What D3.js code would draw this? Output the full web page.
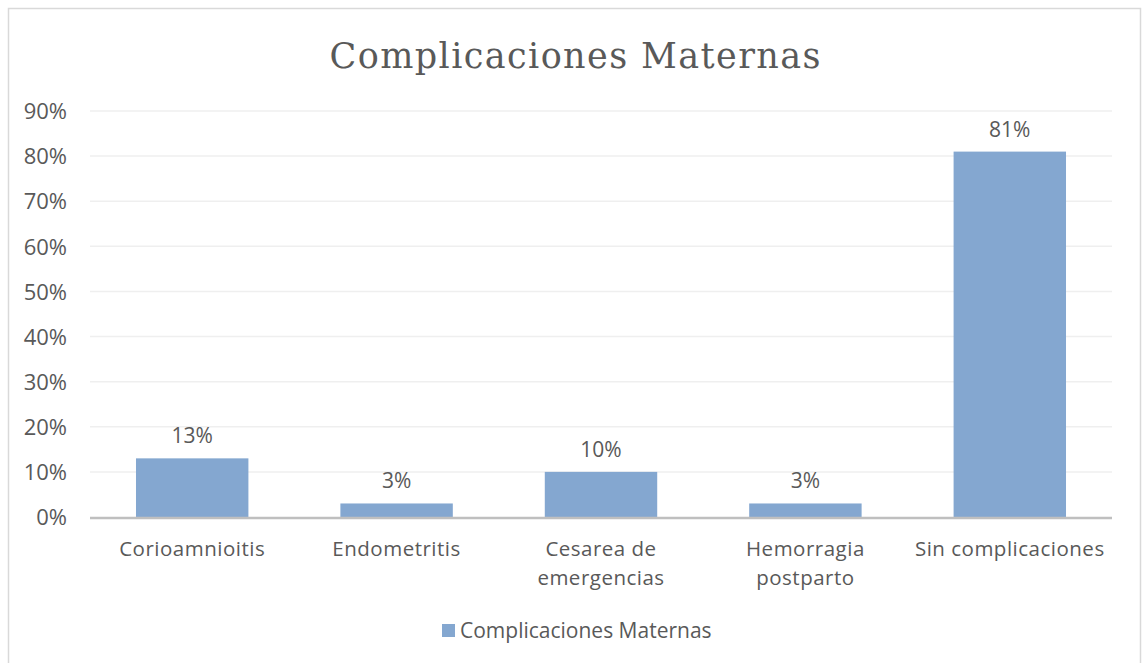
<!DOCTYPE html>
<html>
<head>
<meta charset="utf-8">
<script src="https://cdn.jsdelivr.net/npm/d3@7"></script>
<style>
  body { margin: 0; background: #fff; }
  text { font-family: "Open Sans", sans-serif; fill: #595959; }
  .grid line { stroke: #efefef; stroke-width: 1.5; }
  .axis path, .axis line { display: none; }
</style>
</head>
<body>
<svg id="chart"></svg>
<script>
var categories = [["Corioamnioitis"], ["Endometritis"], ["Cesarea de", "emergencias"], ["Hemorragia", "postparto"], ["Sin complicaciones"]];
var values = [0.13, 0.03, 0.10, 0.03, 0.81];
var seriesName = "Complicaciones Maternas";
var yTicks = [0, 0.1, 0.2, 0.3, 0.4, 0.5, 0.6, 0.7, 0.8, 0.9];

var W = 1144, H = 663;
var margin = {top: 111, right: 32, bottom: 146, left: 90},
	width = W - margin.left - margin.right,
	height = H - margin.top - margin.bottom;

var root = d3.select("#chart").attr("width", W).attr("height", H);

// chart border
root.append("rect")
	.attr("x", 8.5).attr("y", 8.5)
	.attr("width", 1132).attr("height", 670)
	.attr("fill", "none").attr("stroke", "#d9d9d9").attr("stroke-width", 1.5);

root.append("text")
	.attr("x", 575).attr("y", 68)
	.attr("text-anchor", "middle")
	.attr("textLength", 491)
	.attr("lengthAdjust", "spacing")
	.style("font-family", "'DejaVu Serif', serif")
	.style("font-size", "35px")
	.text(seriesName);

var svg = root.append("g")
	.attr("transform", "translate(" + margin.left + "," + margin.top + ")");

var x = d3.scaleBand()
	.domain(d3.range(categories.length))
	.range([0, width])
	.paddingInner(0.45)
	.paddingOuter(0.225);

var y = d3.scaleLinear().domain([0, 0.9]).range([height, 0]);

svg.append("g")
	.attr("class", "grid")
	.selectAll("line")
	.data(yTicks.slice(1)).enter().append("line")
		.attr("x1", 0).attr("x2", width)
		.attr("y1", function (d) { return y(d); })
		.attr("y2", function (d) { return y(d); });

var yAxis = svg.append("g")
	.attr("class", "axis")
	.call(d3.axisLeft(y).tickValues(yTicks).tickFormat(d3.format(".0%")).tickSize(0).tickPadding(23));
yAxis.selectAll("text")
	.style("font-size", "22px")
	.style("fill", "#595959")
	.attr("dy", "0.35em");

svg.selectAll(".bar")
	.data(values).enter().append("rect")
		.attr("class", "bar")
		.attr("x", function (d, i) { return x(i); })
		.attr("width", x.bandwidth())
		.attr("y", function (d) { return y(d); })
		.attr("height", function (d) { return height - y(d); })
		.attr("fill", "#84a7d0");

svg.selectAll(".label")
	.data(values).enter().append("text")
		.attr("class", "label")
		.attr("x", function (d, i) { return x(i) + x.bandwidth() / 2; })
		.attr("y", function (d) { return y(d) - 15; })
		.attr("text-anchor", "middle")
		.style("font-size", "21px")
		.text(d3.format(".0%"));

// x axis line
svg.append("line")
	.attr("x1", 0).attr("x2", width)
	.attr("y1", height + 1).attr("y2", height + 1)
	.attr("stroke", "#bfbfbf").attr("stroke-width", 2.5);

var cat = svg.selectAll(".cat")
	.data(categories).enter().append("text")
		.attr("class", "cat")
		.attr("text-anchor", "middle")
		.attr("x", function (d, i) { return x(i) + x.bandwidth() / 2; })
		.attr("y", height + 39)
		.style("font-size", "20.5px")
		.style("letter-spacing", "0.5px");
cat.selectAll("tspan")
	.data(function (d) { return d; }).enter().append("tspan")
		.attr("x", function () { return this.parentNode.getAttribute("x"); })
		.attr("dy", function (d, i) { return i ? 28.5 : 0; })
		.text(function (d) { return d; });

// legend
var legend = root.append("g").attr("transform", "translate(442,624)");
legend.append("rect")
	.attr("width", 13).attr("height", 13)
	.attr("fill", "#84a7d0");
legend.append("text")
	.attr("x", 18).attr("y", 14)
	.style("font-size", "21px")
	.text(seriesName);
</script>
</body>
</html>
